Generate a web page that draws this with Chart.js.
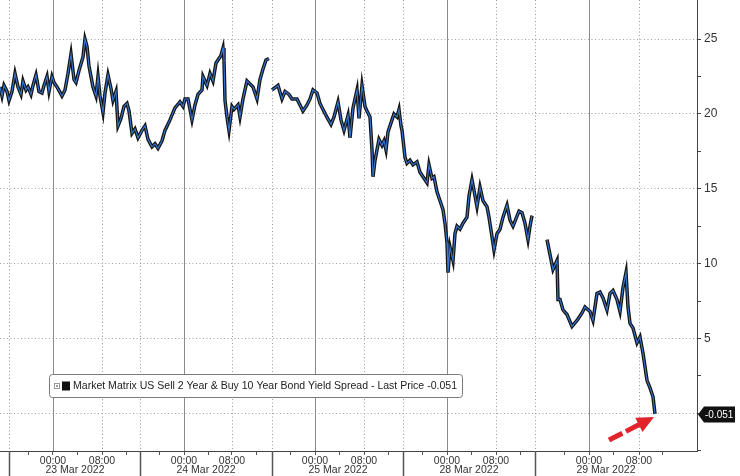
<!DOCTYPE html>
<html>
<head>
<meta charset="utf-8">
<script src="https://cdn.jsdelivr.net/npm/chart.js@4.4.0/dist/chart.umd.min.js"></script>
<style>
  html, body { margin: 0; padding: 0; background: #fff; }
  #wrap { width: 740px; height: 476px; position: relative; }
</style>
</head>
<body>
<div id="wrap"><canvas id="chart"></canvas></div>
<script>
// x position = 10-minute bars counted from the 23 Mar session open
const bars = [
  -9, -7, -5, -2, 0, 3, 6, 9, 12, 14, 17, 19, 22, 24, 27, 30, 33, 35, 38, 40,
  43, 45, 48, 53, 56, 59, 62, 65, 67, 70, 74, 76, 78, 80, 84, 87, 89, 91, 94, 96,
  99, 102, 104, 107, 109, 112, 115, 118, 120, 123, 126, 129, 133, 136, 139, 143, 146, 149, 153, 156,
  161, 166, 171, 174, 176, 179, 183, 186, 189, 193, 194, 198, 201, 204, 207, 209, 212, 214, 215, 216,
  218, 220, 223, 225, 229, 231, 234, 238, 241, 244, 248, 251, 254, 257, 260, 261, 263, 265, 269, 273,
  276, 280, 283, 288, 291, 294, 298, 301, 304, 308, 311, 314, 317, 322, 325, 329, 332, 335, 339, 341,
  344, 348, 350, 353, 356, 358, 361, 363, 364, 366, 368, 370, 373, 375, 377, 379, 383, 385, 388, 390,
  392, 393, 396, 398, 401, 404, 408, 411, 414, 418, 420, 423, 425, 428, 431, 434, 436, 438, 439, 441,
  444, 446, 448, 451, 454, 458, 460, 463, 465, 468, 471, 474, 478, 480, 483, 485, 488, 491, 494, 498,
  501, 504, 507, 510, 513, 516, 519, 521, 523, 530, 538, 541, 544, 548, 549, 551, 554, 558, 563, 568,
  573, 576, 581, 584, 588, 591, 594, 598, 601, 604, 608, 611, 614, 617, 619, 621, 624, 628, 631, 634,
  638, 641, 644, 646
];
// 2s10s spread, bp (null = no trading)
const spread = [
  21.8, 21.2, 21.9, 21.5, 20.9, 21.5, 22.7, 21.8, 21.3, 22.2, 21.6, 21.8, 21.3, 21.9, 22.6, 21.5, 21.4, 21.9, 22.5, 21.5,
  22.5, 22.1, 21.8, 21.2, 21.6, 22.7, 24.0, 22.3, 22.1, 22.9, 23.8, 25.0, 24.5, 23.2, 21.8, 21.2, 22.5, 21.2, 20.1, 21.4,
  22.6, 21.7, 20.9, 21.5, 19.2, 19.7, 20.5, 20.7, 20.2, 18.7, 19.0, 18.4, 18.9, 19.2, 18.3, 17.8, 18.0, 17.7, 18.2, 18.9,
  19.6, 20.4, 20.8, 20.5, 21.0, 21.0, 19.6, 20.6, 21.3, 21.6, 22.5, 21.9, 22.7, 22.2, 23.4, 23.6, 23.9, 24.4, 23.6, 20.9,
  19.8, 18.9, 20.5, 20.3, 20.6, 19.8, 21.0, 22.2, 22.0, 21.8, 21.0, 22.3, 23.0, 23.6, 23.7, null, 21.6, 21.7, 21.9, 21.0,
  21.5, 21.3, 21.0, 21.0, 20.6, 20.2, 20.6, 21.0, 21.6, 21.4, 20.7, 20.3, 19.9, 19.3, 19.8, 20.8, 19.6, 18.9, 19.9, 18.4,
  20.4, 21.6, 19.7, 21.9, 20.5, 20.2, 19.8, 17.6, 15.8, 16.9, 17.6, 18.3, 17.9, 18.2, 17.6, 18.8, 19.6, 20.0, 19.8, 20.3,
  19.2, 18.9, 17.1, 16.7, 16.9, 16.6, 16.8, 16.1, 15.8, 15.4, 16.6, 15.7, 15.8, 14.8, 14.2, 13.6, 12.7, 11.4, 9.4, 11.1,
  10.2, 12.0, 12.5, 12.3, 12.7, 13.1, 14.5, 15.6, 14.9, 13.8, 15.1, 14.2, 13.8, 13.1, 11.8, 10.9, 12.0, 12.3, 13.1, 13.9,
  12.9, 12.5, 13.0, 13.5, 13.4, 12.7, 11.6, 12.5, 13.2, null, 11.6, 10.6, 9.6, 10.2, 7.6, 7.6, 6.9, 6.6, 5.8, 6.2,
  6.7, 7.1, 6.8, 6.2, 8.0, 8.1, 7.7, 6.9, 8.0, 8.2, 7.6, 6.8, 8.4, 9.4, 7.1, 6.0, 5.7, 4.7, 5.1, 4.0,
  2.2, 1.7, 1.1, -0.051
];
const LAST_PRICE = -0.051;
const SERIES_NAME = 'Market Matrix US Sell 2 Year & Buy 10 Year Bond Yield Spread - Last Price -0.051';

// time axis
const sessionOpen = [0, 131, 263, 394, 526];
const midnight = [44, 175, 306, 438, 580];
const eightAm = [93, 223, 355, 487, 630];
const dayLabels = ['23 Mar 2022', '24 Mar 2022', '25 Mar 2022', '28 Mar 2022', '29 Mar 2022'];
const dayCenters = [66, 197, 329, 460, 597];
const minorTicks = [19.5, 68.5, 117.5, 150.5, 199.5, 247.5, 281.5, 330.5, 379.5, 413.5, 462.5, 511.5, 555.5, 604.5, 653.5];
const X_MIN = -9, X_MAX = 688;

// value axis
const yTicks = [-2.5, 0, 2.5, 5, 7.5, 10, 12.5, 15, 17.5, 20, 22.5, 25];
const yLabels = ['', '', '', '5', '', '10', '', '15', '', '20', '', '25'];
const Y_MIN = -2.52, Y_MAX = 27.61;

const FONT = '"Liberation Sans", Arial, sans-serif';
Chart.defaults.font.family = FONT;

const points = bars.map((b, i) => ({ x: b, y: spread[i] }));
const xTickValues = [...midnight, ...eightAm, ...minorTicks].sort((a, b) => a - b);

function line(ctx, x1, y1, x2, y2) {
  ctx.beginPath();
  ctx.moveTo(x1, y1);
  ctx.lineTo(x2, y2);
  ctx.stroke();
}

const bbgPlugin = {
  id: 'bbg',
  beforeDatasetsDraw(chart) {
    const { ctx, chartArea: a, scales: { x } } = chart;
    ctx.save();
    ctx.lineWidth = 1;
    // dotted: session opens and 08:00
    ctx.strokeStyle = '#9a9a9a';
    ctx.setLineDash([1, 2.5]);
    [...sessionOpen, ...eightAm].forEach(v => {
      const px = Math.round(x.getPixelForValue(v)) + 0.5;
      line(ctx, px, a.top, px, a.bottom);
    });
    // solid: midnight
    ctx.setLineDash([]);
    ctx.strokeStyle = '#8a8a8a';
    midnight.forEach(v => {
      const px = Math.round(x.getPixelForValue(v)) + 0.5;
      line(ctx, px, a.top, px, a.bottom);
    });
    ctx.restore();
  },
  afterDraw(chart) {
    const { ctx, chartArea: a, scales: { x, y } } = chart;
    const H = chart.height;
    ctx.save();

    // session separators below the axis
    ctx.strokeStyle = '#555';
    ctx.lineWidth = 1.5;
    sessionOpen.forEach(v => {
      const px = Math.round(x.getPixelForValue(v)) + 0.5;
      line(ctx, px, a.bottom, px, H);
    });

    // day labels
    ctx.fillStyle = '#333';
    ctx.font = '10.5px ' + FONT;
    ctx.textAlign = 'center';
    ctx.textBaseline = 'middle';
    dayLabels.forEach((t, i) => ctx.fillText(t, x.getPixelForValue(dayCenters[i]), 470.5));

    // last price badge
    const yp = Math.round(y.getPixelForValue(LAST_PRICE)) + 0.5;
    const bx = a.right + 1;
    ctx.fillStyle = '#111';
    ctx.beginPath();
    ctx.moveTo(bx, yp);
    ctx.lineTo(bx + 6, yp - 8);
    ctx.lineTo(bx + 37, yp - 8);
    ctx.lineTo(bx + 37, yp + 8);
    ctx.lineTo(bx + 6, yp + 8);
    ctx.closePath();
    ctx.fill();
    ctx.fillStyle = '#fff';
    ctx.font = '10px ' + FONT;
    ctx.textAlign = 'left';
    ctx.fillText(LAST_PRICE.toFixed(3), bx + 7, yp + 0.5);

    // red dashed arrow pointing at the last point
    const tipX = x.getPixelForValue(bars[bars.length - 1]) - 1;
    const tipY = y.getPixelForValue(LAST_PRICE) + 3;
    const tailX = tipX - 45, tailY = tipY + 23;
    const dx = tipX - tailX, dy = tipY - tailY;
    const len = Math.hypot(dx, dy);
    const ux = dx / len, uy = dy / len;
    const headLen = 17, headW = 8;
    const baseX = tipX - ux * headLen, baseY = tipY - uy * headLen;
    ctx.strokeStyle = '#e3232c';
    ctx.fillStyle = '#e3232c';
    ctx.lineWidth = 5;
    ctx.setLineDash([15, 4]);
    line(ctx, tailX, tailY, baseX + ux * 2, baseY + uy * 2);
    ctx.setLineDash([]);
    ctx.beginPath();
    ctx.moveTo(tipX, tipY);
    ctx.lineTo(baseX - uy * headW, baseY + ux * headW);
    ctx.lineTo(baseX + uy * headW, baseY - ux * headW);
    ctx.closePath();
    ctx.fill();

    // legend box
    const lx = 49.5, ly = 374.5, lw = 413, lh = 23;
    ctx.fillStyle = '#fff';
    ctx.strokeStyle = '#7a7a7a';
    ctx.lineWidth = 1;
    ctx.beginPath();
    ctx.roundRect(lx, ly, lw, lh, 3);
    ctx.fill();
    ctx.stroke();
    ctx.strokeStyle = '#999';
    ctx.strokeRect(54.5, 383.5, 5, 5);
    ctx.fillStyle = '#999';
    ctx.fillRect(56, 385, 2, 2);
    ctx.fillStyle = '#111';
    ctx.fillRect(62, 381.5, 8, 9);
    ctx.font = '10.5px ' + FONT;
    ctx.fillStyle = '#222';
    ctx.textAlign = 'left';
    ctx.textBaseline = 'middle';
    const tw = ctx.measureText(SERIES_NAME).width;
    const sx = 384 / tw;
    ctx.translate(73, 386.5);
    ctx.scale(sx, 1);
    ctx.fillText(SERIES_NAME, 0, 0);
    ctx.restore();
  }
};

new Chart(document.getElementById('chart'), {
  type: 'line',
  data: {
    datasets: [
      {
        label: 'bars',
        data: points,
        borderColor: '#141414',
        borderWidth: 3.5,
        pointRadius: 0,
        tension: 0,
        spanGaps: false,
        order: 2
      },
      {
        label: 'close',
        data: points,
        borderColor: '#3575d3',
        borderWidth: 1.1,
        pointRadius: 0,
        tension: 0,
        spanGaps: false,
        order: 1
      }
    ]
  },
  options: {
    responsive: true,
    maintainAspectRatio: false,
    animation: false,
    layout: { padding: 0 },
    plugins: {
      legend: { display: false },
      tooltip: { enabled: false }
    },
    scales: {
      x: {
        type: 'linear',
        min: X_MIN,
        max: X_MAX,
        afterBuildTicks: s => { s.ticks = xTickValues.map(v => ({ value: v })); },
        afterFit: s => { s.height = 25; s.paddingLeft = 0; s.paddingRight = 0; },
        ticks: {
          autoSkip: false,
          maxRotation: 0,
          padding: 0,
          color: '#333',
          font: { size: 10.5 },
          callback: v => midnight.includes(v) ? '00:00' : (eightAm.includes(v) ? '08:00' : '')
        },
        grid: { drawOnChartArea: false, tickLength: 4, tickColor: '#555', lineWidth: 1 },
        border: { color: '#444', width: 1 }
      },
      y: {
        position: 'right',
        min: Y_MIN,
        max: Y_MAX,
        afterBuildTicks: s => { s.ticks = yTicks.map(v => ({ value: v })); },
        afterFit: s => { s.width = 43; s.paddingTop = 0; s.paddingBottom = 0; },
        ticks: {
          padding: 3,
          color: '#333',
          font: { size: 12 },
          callback: (v, i) => yLabels[i]
        },
        grid: {
          color: c => (c.tick && c.tick.value % 5 === 0) ? '#a3a3a3' : 'rgba(0,0,0,0)',
          tickColor: '#444',
          tickLength: 4,
          lineWidth: 1
        },
        border: { color: '#444', width: 1, dash: [1, 2.5] }
      }
    }
  },
  plugins: [bbgPlugin]
});
</script>
</body>
</html>
